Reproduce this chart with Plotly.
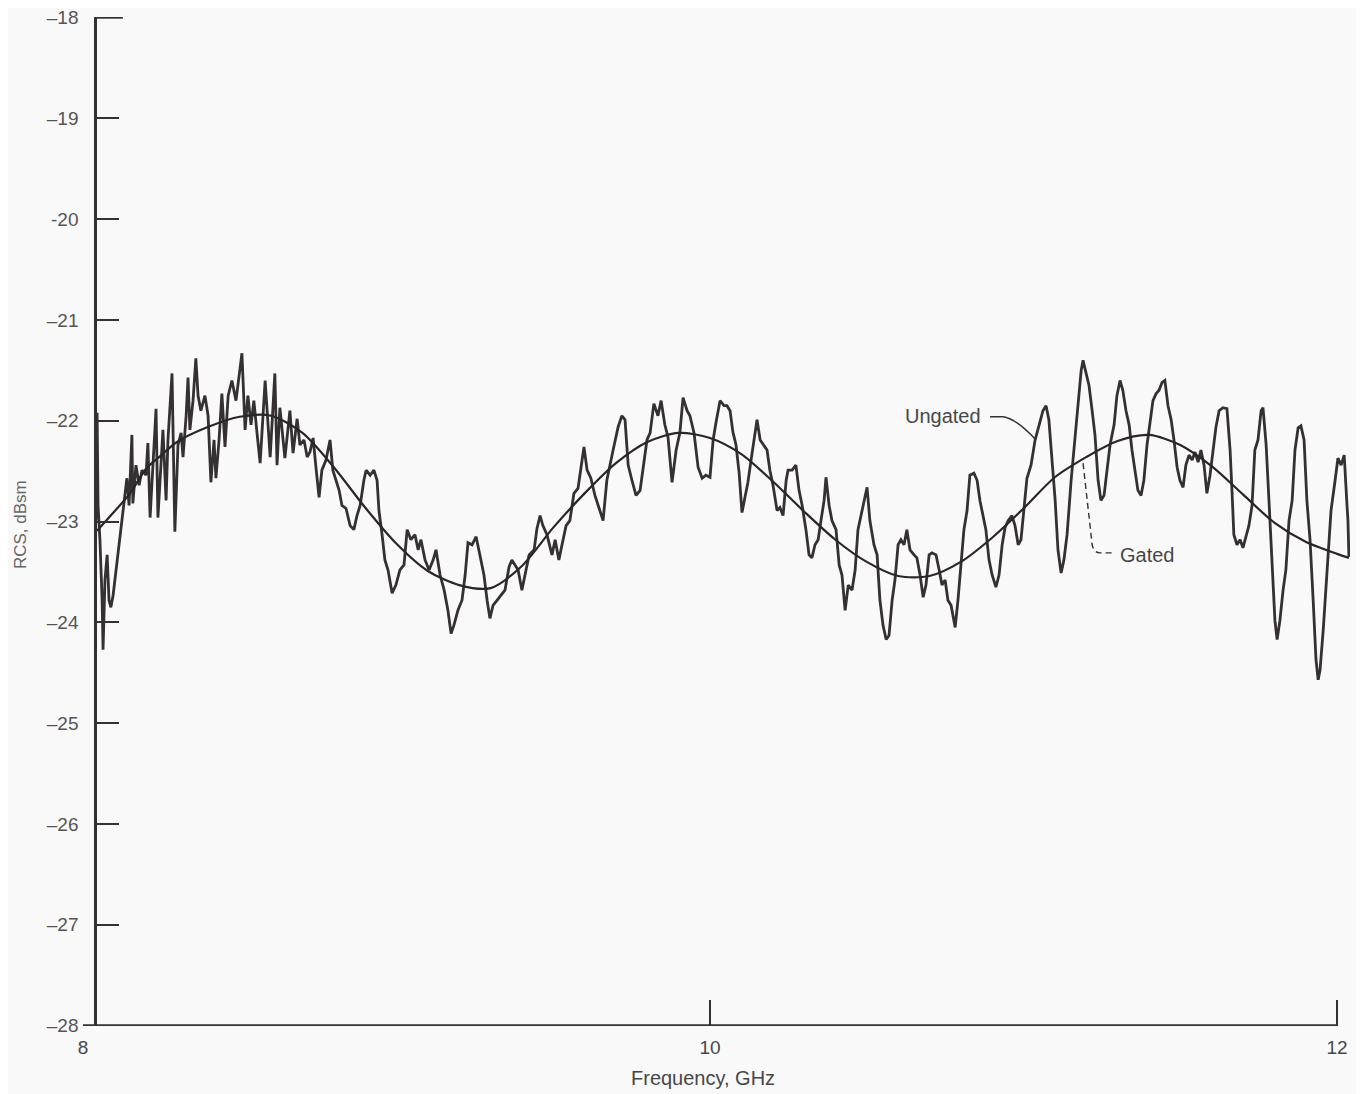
import plotly.graph_objects as go

# ---------------- data ----------------
freq_ungated = [
    8.041, 8.045, 8.048, 8.054, 8.061, 8.064, 8.070, 8.077, 8.083, 8.089, 8.096, 8.115, 8.134, 8.140, 8.147,
    8.156, 8.159, 8.169, 8.179, 8.188, 8.201, 8.207, 8.214, 8.223, 8.233, 8.239, 8.249, 8.255, 8.265, 8.271,
    8.284, 8.293, 8.303, 8.313, 8.319, 8.329, 8.335, 8.341, 8.351, 8.360, 8.367, 8.376, 8.389, 8.399, 8.408,
    8.418, 8.424, 8.434, 8.443, 8.453, 8.463, 8.475, 8.488, 8.498, 8.507, 8.517, 8.526, 8.536, 8.545, 8.555,
    8.565, 8.581, 8.597, 8.612, 8.619, 8.628, 8.644, 8.660, 8.670, 8.683,
    8.692, 8.705, 8.715, 8.724, 8.734, 8.743, 8.753, 8.762, 8.775, 8.788, 8.797, 8.807, 8.817, 8.826, 8.839,
    8.852, 8.864, 8.874, 8.884, 8.896, 8.903, 8.916, 8.928, 8.938, 8.944, 8.954, 8.963, 8.973, 8.986, 8.998,
    9.011, 9.024, 9.034, 9.046, 9.059, 9.069, 9.078, 9.091, 9.104, 9.117, 9.126, 9.139, 9.152, 9.164, 9.174,
    9.183, 9.196, 9.209, 9.219, 9.228, 9.241, 9.254, 9.266, 9.279, 9.289, 9.298, 9.308, 9.321, 9.333, 9.346,
    9.359, 9.368,
    9.378, 9.388, 9.400, 9.410, 9.423, 9.439, 9.448, 9.458, 9.467, 9.480, 9.496, 9.506, 9.518, 9.528, 9.541,
    9.553, 9.566, 9.579, 9.592, 9.598, 9.608, 9.620, 9.633, 9.649, 9.659, 9.671, 9.681, 9.691, 9.707, 9.719,
    9.729, 9.739, 9.751, 9.764, 9.777, 9.786, 9.799, 9.809, 9.821, 9.834, 9.844, 9.856, 9.866, 9.879, 9.892,
    9.904, 9.914, 9.927, 9.936, 9.949, 9.962, 9.975, 9.987, 10.000, 10.010, 10.019, 10.032, 10.045,
    10.054, 10.064, 10.073, 10.083, 10.093, 10.102, 10.112, 10.121, 10.131, 10.140, 10.150, 10.160, 10.172,
    10.182, 10.191, 10.201, 10.214, 10.223, 10.233, 10.243, 10.249, 10.262, 10.274, 10.284, 10.294, 10.306,
    10.316, 10.325, 10.335, 10.345, 10.354, 10.364, 10.370, 10.380, 10.389, 10.402, 10.412, 10.421, 10.431,
    10.441, 10.453, 10.463, 10.472, 10.482, 10.495, 10.501, 10.510, 10.523, 10.533, 10.542, 10.552, 10.562,
    10.571, 10.581, 10.590, 10.600, 10.609, 10.619, 10.628, 10.638, 10.651, 10.660, 10.670, 10.680, 10.689,
    10.699, 10.708, 10.721, 10.731,
    10.740, 10.750, 10.759, 10.769, 10.782, 10.791, 10.801, 10.810, 10.820, 10.829, 10.842, 10.852, 10.861,
    10.871, 10.880, 10.890, 10.900, 10.912, 10.922, 10.932, 10.941, 10.951, 10.963, 10.973, 10.983, 10.992,
    11.002, 11.011, 11.024, 11.037, 11.050, 11.062, 11.072, 11.081, 11.091, 11.101, 11.110, 11.120, 11.129,
    11.139, 11.152, 11.164, 11.174, 11.184, 11.190, 11.199, 11.209, 11.219, 11.228, 11.238, 11.247, 11.257,
    11.266, 11.276, 11.289, 11.298, 11.308, 11.317, 11.327, 11.337, 11.346, 11.356, 11.365, 11.375, 11.384,
    11.394, 11.404, 11.413, 11.423,
    11.432, 11.442, 11.451, 11.461, 11.471, 11.480, 11.490, 11.499, 11.509, 11.518, 11.528, 11.538, 11.547,
    11.557, 11.566, 11.576, 11.585, 11.595, 11.605, 11.614, 11.624, 11.636, 11.649, 11.659, 11.665, 11.671,
    11.681, 11.691, 11.700, 11.710, 11.719, 11.729, 11.738, 11.748, 11.758, 11.764, 11.774, 11.783, 11.793,
    11.802, 11.809, 11.818, 11.828, 11.837, 11.847, 11.857, 11.866, 11.876, 11.885, 11.895, 11.904, 11.914,
    11.924, 11.933, 11.940, 11.946, 11.956, 11.968, 11.981, 11.994, 12.003, 12.013, 12.023, 12.032, 12.035,
    12.038,
]

rcs_ungated = [
    -22.99, -21.92, -22.84, -23.18, -23.78, -24.27, -23.58, -23.33, -23.78, -23.85, -23.73, -23.23, -22.69, -22.57, -22.84,
    -22.14, -22.82, -22.44, -22.64, -22.49, -22.54, -22.22, -22.96, -22.49, -21.88, -22.96, -22.39, -22.09, -22.79, -22.19,
    -21.53, -23.10, -22.24, -22.12, -22.36, -21.95, -21.57, -22.09, -21.80, -21.38, -21.75, -21.90, -21.75, -21.95, -22.61,
    -22.19, -22.57, -22.19, -21.73, -22.26, -21.75, -21.60, -21.80, -21.58, -21.33, -22.09, -21.75, -22.04, -21.80, -22.12,
    -22.42, -21.60, -22.36, -21.53, -22.44, -21.87, -22.37, -21.90, -22.32, -21.98,
    -22.24, -22.19, -22.36, -22.31, -22.17, -22.46, -22.76, -22.49, -22.39, -22.19, -22.49, -22.59, -22.69, -22.84, -22.87,
    -23.04, -23.08, -22.94, -22.84, -22.59, -22.49, -22.54, -22.49, -22.59, -22.89, -23.13, -23.38, -23.48, -23.71, -23.63,
    -23.48, -23.43, -23.08, -23.18, -23.13, -23.28, -23.18, -23.38, -23.48, -23.38, -23.28, -23.53, -23.68, -23.88, -24.11,
    -24.03, -23.88, -23.78, -23.53, -23.21, -23.23, -23.15, -23.33, -23.53, -23.78, -23.96, -23.83, -23.78, -23.73, -23.68,
    -23.45, -23.38,
    -23.43, -23.48, -23.68, -23.53, -23.33, -23.28, -23.07, -22.94, -23.04, -23.13, -23.33, -23.18, -23.38, -23.23, -23.04,
    -22.99, -22.72, -22.67, -22.39, -22.26, -22.49, -22.57, -22.74, -22.89, -22.99, -22.59, -22.42, -22.29, -22.06, -21.95,
    -21.99, -22.44, -22.59, -22.74, -22.69, -22.46, -22.19, -22.12, -21.83, -21.95, -21.80, -22.04, -22.16, -22.61, -22.29,
    -22.12, -21.77, -21.90, -21.95, -22.12, -22.46, -22.57, -22.54, -22.56, -22.19, -22.02, -21.80, -21.85,
    -21.85, -21.90, -22.11, -22.24, -22.52, -22.91, -22.74, -22.61, -22.39, -22.19, -21.99, -22.19, -22.24,
    -22.29, -22.49, -22.64, -22.89, -22.86, -22.94, -22.59, -22.49, -22.49, -22.44, -22.69, -22.84, -23.08,
    -23.33, -23.36, -23.23, -23.18, -22.99, -22.79, -22.56, -22.84, -22.99, -23.08, -23.43, -23.53, -23.88,
    -23.63, -23.68, -23.48, -23.08, -22.94, -22.76, -22.66, -22.99, -23.23, -23.33, -23.78, -24.03, -24.17,
    -24.13, -23.78, -23.58, -23.23, -23.18, -23.23, -23.08, -23.28, -23.33, -23.36, -23.53, -23.75, -23.63,
    -23.33, -23.31, -23.33, -23.48,
    -23.63, -23.58, -23.78, -23.83, -24.05, -23.78, -23.38, -23.08, -22.89, -22.54, -22.52, -22.59, -22.79,
    -22.94, -23.08, -23.38, -23.53, -23.65, -23.53, -23.23, -23.06, -22.99, -22.94, -23.04, -23.23, -23.18,
    -22.89, -22.57, -22.44, -22.19, -22.04, -21.90, -21.85, -21.99, -22.39, -22.79, -23.28, -23.51, -23.38,
    -23.13, -22.59, -22.19, -21.90, -21.50, -21.40, -21.52, -21.65, -21.90, -22.14, -22.59, -22.79, -22.74,
    -22.49, -22.24, -22.04, -21.75, -21.60, -21.70, -21.90, -22.04, -22.29, -22.49, -22.69, -22.74, -22.59,
    -22.24, -21.99, -21.80, -21.73,
    -21.70, -21.62, -21.60, -21.85, -21.99, -22.19, -22.46, -22.59, -22.66, -22.44, -22.34, -22.39, -22.31,
    -22.41, -22.29, -22.44, -22.72, -22.54, -22.29, -22.06, -21.90, -21.87, -21.88, -22.29, -22.69, -23.13,
    -23.23, -23.18, -23.26, -23.13, -23.04, -22.84, -22.29, -22.19, -21.90, -21.87, -22.24, -22.79, -23.48,
    -23.98, -24.17, -23.98, -23.68, -23.48, -22.99, -22.79, -22.29, -22.07, -22.05, -22.19, -22.79, -23.18,
    -23.78, -24.37, -24.57, -24.47, -24.08, -23.48, -22.89, -22.59, -22.37, -22.44, -22.34, -22.84, -22.99,
    -23.35,
]

freq_gated = [8.045, 8.1, 8.15, 8.2, 8.25, 8.3, 8.4, 8.5, 8.6, 8.7, 8.8, 8.9, 9.0, 9.1, 9.2, 9.3, 9.4,
              9.5, 9.6, 9.7, 9.8, 9.9, 10.0, 10.1, 10.2, 10.3, 10.4, 10.5, 10.6, 10.7, 10.8, 10.9, 11.0,
              11.1, 11.2, 11.3, 11.4, 11.5, 11.6, 11.7, 11.8, 11.9, 12.0, 12.038]
rcs_gated = [-23.09, -22.90, -22.72, -22.48, -22.34, -22.21, -22.06, -21.96, -21.95, -22.12, -22.46, -22.86,
             -23.22, -23.49, -23.63, -23.66, -23.44, -23.06, -22.72, -22.42, -22.21, -22.12, -22.17, -22.33,
             -22.60, -22.90, -23.18, -23.40, -23.54, -23.54, -23.40, -23.16, -22.87, -22.56, -22.36, -22.20,
             -22.14, -22.24, -22.45, -22.73, -23.01, -23.20, -23.32, -23.36]

y_ticks = [-18, -19, -20, -21, -22, -23, -24, -25, -26, -27, -28]
y_tick_text = ["\u201318", "\u201319", "-20", "\u201321", "\u201322", "\u201323", "\u201324", "\u201325",
               "\u201326", "\u201327", "\u201328"]
x_label_vals = [8, 10, 12]
x_label_text = ["8", "10", "12"]
x_tick_marks = [10, 12]

x_title = "Frequency, GHz"
y_title = "RCS, dBsm"
label_ungated = "Ungated"
label_gated = "Gated"

# ---------------- figure ----------------
INK = "#353133"
TXT = "#474747"
BG = "#f9f9f9"
FONT = "Liberation Sans, Arial, Helvetica, sans-serif"
Y_AXIS_POS = 0.0095

fig = go.Figure()
fig.add_trace(go.Scatter(x=freq_ungated, y=rcs_ungated, mode="lines", name=label_ungated,
                         line=dict(color=INK, width=2.8), showlegend=False, hoverinfo="skip"))
fig.add_trace(go.Scatter(x=freq_gated, y=rcs_gated, mode="lines", name=label_gated, xaxis="x2",
                         line=dict(color="#2a2628", width=2.2, shape="spline", smoothing=0.8),
                         showlegend=False, hoverinfo="skip"))

x_range = [8, 12.0415]
fig.update_layout(
    width=1356, height=1086,
    margin=dict(l=75, r=14, t=9, b=68, autoexpand=False),
    paper_bgcolor=BG, plot_bgcolor=BG,
    font=dict(family=FONT, size=19, color=TXT),
    showlegend=False,
    xaxis=dict(range=x_range, showline=False, showgrid=False, automargin=False,
               zeroline=False, tickvals=x_label_vals, ticktext=x_label_text, ticks="",
               ticklabelstandoff=8, ticklabeloverflow="allow", tickfont=dict(size=19, color=TXT)),
    xaxis2=dict(range=x_range, matches="x", overlaying="x", anchor="y", side="bottom",
                showline=False, showgrid=False, zeroline=False, tickvals=x_tick_marks,
                automargin=False,
                ticks="inside", ticklen=26, tickwidth=2, tickcolor=INK, showticklabels=False),
    yaxis=dict(range=[-28.004, -17.994], anchor="free", position=Y_AXIS_POS, showline=True,
               linecolor=INK, linewidth=2.5, showgrid=False, zeroline=False, tickvals=y_ticks,
               ticktext=y_tick_text, automargin=False,
               ticks="inside", ticklen=22, tickwidth=2, tickcolor=INK, ticklabelstandoff=12,
               ticklabeloverflow="allow", tickfont=dict(size=19, color="#555555")),
)

# x axis baseline: runs from 8 GHz to the 12 GHz tick, as in the original
fig.add_shape(type="line", xref="x", yref="y", x0=8, x1=12, y0=-28, y1=-28,
              line=dict(color=INK, width=2.5), layer="above")
# the longer top tick at -18 that closes the y axis like an L
fig.add_shape(type="line", xref="paper", yref="y", x0=Y_AXIS_POS, x1=Y_AXIS_POS + 0.022,
              y0=-18, y1=-18, line=dict(color=INK, width=2.2), layer="above")

fig.add_annotation(text=x_title, xref="paper", yref="paper", x=0.489, y=-0.0515,
                   xanchor="center", yanchor="middle", showarrow=False,
                   font=dict(size=20, color=TXT))
fig.add_annotation(text=y_title, xref="paper", yref="paper", x=-0.0497, y=0.4965,
                   xanchor="center", yanchor="middle", textangle=-90, showarrow=False,
                   font=dict(size=17, color="#666666"))
fig.add_annotation(text=label_ungated, xref="x", yref="y", x=10.743, y=-21.95,
                   xanchor="center", yanchor="middle", showarrow=False,
                   font=dict(size=20, color=TXT))
fig.add_annotation(text=label_gated, xref="x", yref="y", x=11.302, y=-23.33,
                   xanchor="left", yanchor="middle", showarrow=False,
                   font=dict(size=20, color=TXT))

# leader lines for the labels
fig.add_shape(type="path", xref="x", yref="y",
              path="M 10.893,-21.96 L 10.935,-21.96 Q 10.975,-21.975 11.040,-22.19",
              line=dict(color=INK, width=1.5))
fig.add_shape(type="path", xref="x", yref="y",
              path="M 11.190,-22.42 L 11.219,-23.23 Q 11.225,-23.31 11.244,-23.31 L 11.282,-23.31",
              line=dict(color=INK, width=1.4, dash="6px,4px"))

fig.write_html("out.html")
